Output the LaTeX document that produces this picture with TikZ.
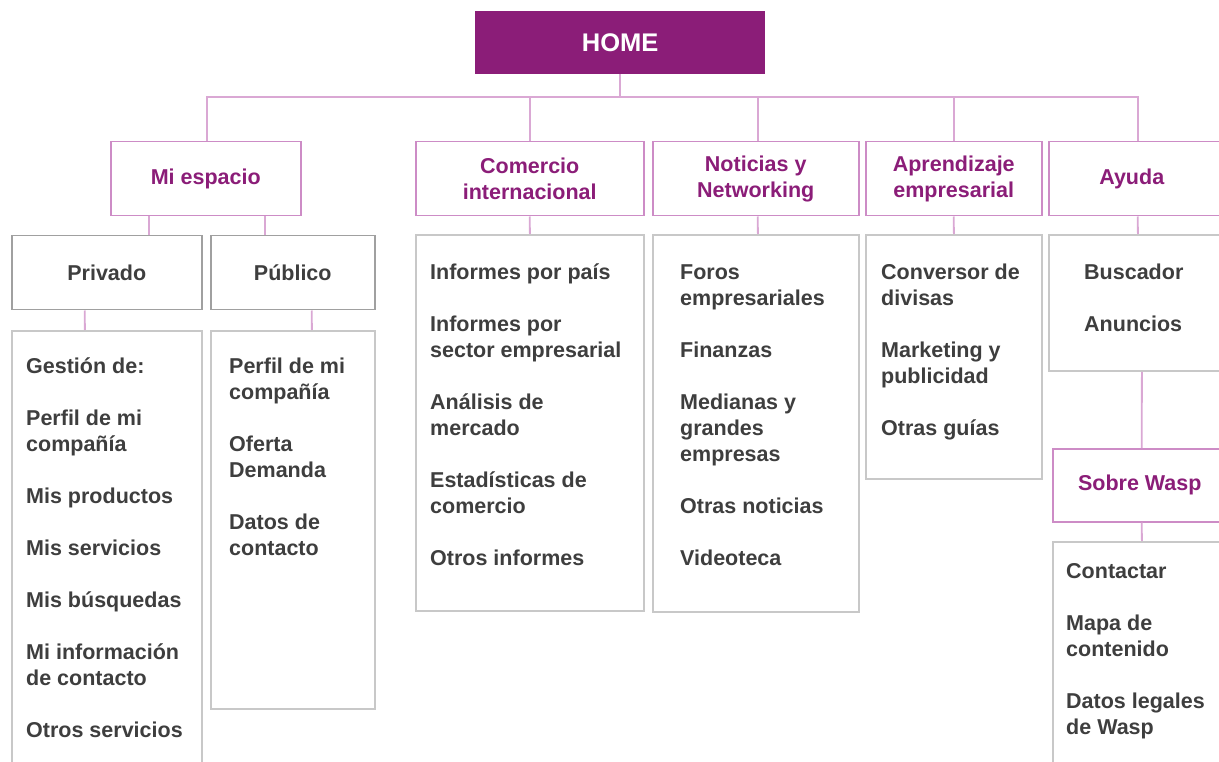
\documentclass[tikz,border=0pt]{standalone}
\usepackage{fontspec}
\setmainfont{Liberation Sans}
\definecolor{purp}{RGB}{139,29,120}
\definecolor{l1c}{RGB}{205,140,198}
\definecolor{connc}{RGB}{218,168,212}
\definecolor{l2c}{RGB}{160,160,160}
\definecolor{cboxc}{RGB}{200,200,200}
\definecolor{txtc}{RGB}{62,62,62}
\newcommand\diafont{\fontsize{21.5}{26}\selectfont\bfseries}
\begin{document}
\begin{tikzpicture}[x=1pt,y=-1pt,
  conn/.style={draw=connc, line width=1.8pt},
  lvlone/.style={draw=l1c, line width=1.5pt, fill=white, text=purp, font=\diafont, align=center, inner sep=0pt, anchor=north west},
  lvltwo/.style={draw=l2c, line width=1.5pt, fill=white, text=txtc, font=\diafont, inner sep=0pt, anchor=north west},
  cbox/.style={draw=cboxc, line width=1.8pt, fill=white, inner sep=0pt, anchor=north west},
  items/.style={text=txtc, font=\diafont, align=left, anchor=north west, inner sep=0pt}]
\useasboundingbox (0,0) rectangle (1219,762);
\clip (0,0) rectangle (1219,762);
\fill[white] (0,0) rectangle (1219,762);

% HOME
\node[fill=purp, anchor=north west, minimum width=290pt, minimum height=63pt, inner sep=0pt, text=white, font=\fontsize{25.5}{30}\selectfont\bfseries] (home) at (475,11) {\raisebox{-2pt}{HOME}};

% level one
\node[lvlone, minimum width=190pt, minimum height=74pt] (miesp) at (110,141) {\raisebox{2pt}{Mi espacio}};
\node[lvlone, minimum width=228pt, minimum height=74pt] (com) at (415,141) {Comercio\\internacional};
\node[lvlone, minimum width=206pt, minimum height=74pt] (not) at (652,141) {Noticias y\\Networking};
\node[lvlone, minimum width=176pt, minimum height=74pt] (apr) at (865,141) {Aprendizaje\\empresarial};
\node[lvlone, minimum width=192pt, minimum height=74pt] (ayu) at (1048,141) {\hspace*{-26pt}Ayuda};

% Mi espacio children
\node[lvltwo, minimum width=190pt, minimum height=74pt] (priv) at (11,235) {Privado};
\node[lvltwo, minimum width=164pt, minimum height=74pt] (pub) at (210,235) {Público};

% content boxes
\node[cbox, minimum width=190pt, minimum height=460pt] (privbox) at (11,330) {};
\node[cbox, minimum width=164pt, minimum height=378pt] (pubbox) at (210,330) {};
\node[cbox, minimum width=228pt, minimum height=376pt] (combox) at (415,234) {};
\node[cbox, minimum width=206pt, minimum height=377pt] (notbox) at (652,234) {};
\node[cbox, minimum width=176pt, minimum height=244pt] (aprbox) at (865,234) {};
\node[cbox, minimum width=192pt, minimum height=136pt] (ayubox) at (1048,234) {};
\node[lvlone, minimum width=188pt, minimum height=73pt] (sobre) at (1052,448) {\hspace*{-14pt}Sobre Wasp};
\node[cbox, minimum width=188pt, minimum height=250pt] (sobbox) at (1052,541) {};

% texts
\node[items] (privtxt) at (26,354.8) {\strut Gestión de:\\[26pt]Perfil de mi\\compañía\\[26pt]Mis productos\\[26pt]Mis servicios\\[26pt]Mis búsquedas\\[26pt]Mi información\\de contacto\\[26pt]Otros servicios};
\node[items] (pubtxt) at (229,354.8) {\strut Perfil de mi\\compañía\\[26pt]Oferta\\Demanda\\[26pt]Datos de\\contacto};
\node[items] (comtxt) at (430,260.8) {\strut Informes por país\\[26pt]Informes por\\sector empresarial\\[26pt]Análisis de\\mercado\\[26pt]Estadísticas de\\comercio\\[26pt]Otros informes};
\node[items] (nottxt) at (680,260.8) {\strut Foros\\empresariales\\[26pt]Finanzas\\[26pt]Medianas y\\grandes\\empresas\\[26pt]Otras noticias\\[26pt]Videoteca};
\node[items] (aprtxt) at (881,260.8) {\strut Conversor de\\divisas\\[26pt]Marketing y\\publicidad\\[26pt]Otras guías};
\node[items] (ayutxt) at (1084,260.8) {\strut Buscador\\[26pt]Anuncios};
\node[items] (sobtxt) at (1066,559.8) {\strut Contactar\\[26pt]Mapa de\\contenido\\[26pt]Datos legales\\de Wasp};

% connectors from HOME
\draw[conn] (home.south) -- ++(0,23) -| ([xshift=1pt]miesp.north);
\draw[conn] (home.south) -- ++(0,23) -| (com.north);
\draw[conn] (home.south) -- ++(0,23) -| ([xshift=2pt]not.north);
\draw[conn] (home.south) -- ++(0,23) -| (apr.north);
\draw[conn] (home.south) -- ++(0,23) -| ([xshift=-7pt]ayu.north);

% Mi espacio
\draw[conn] ([xshift=-57pt]miesp.south) -- ([xshift=42pt]priv.north);
\draw[conn] ([xshift=59pt]miesp.south) -- ([xshift=-28pt]pub.north);
\draw[conn] ([xshift=-22pt]priv.south) -- ([xshift=-22pt]privbox.north);
\draw[conn] ([xshift=19pt]pub.south) -- ([xshift=19pt]pubbox.north);

% other columns
\draw[conn] (com.south) -- (combox.north);
\draw[conn] ([xshift=2pt]not.south) -- ([xshift=2pt]notbox.north);
\draw[conn] (apr.south) -- (aprbox.north);
\draw[conn] ([xshift=-7pt]ayu.south) -- ([xshift=-7pt]ayubox.north);
\draw[conn] ([xshift=-3pt]ayubox.south) -- ([xshift=-5pt]sobre.north);
\draw[conn] ([xshift=-5pt]sobre.south) -- ([xshift=-5pt]sobbox.north);
\end{tikzpicture}
\end{document}
